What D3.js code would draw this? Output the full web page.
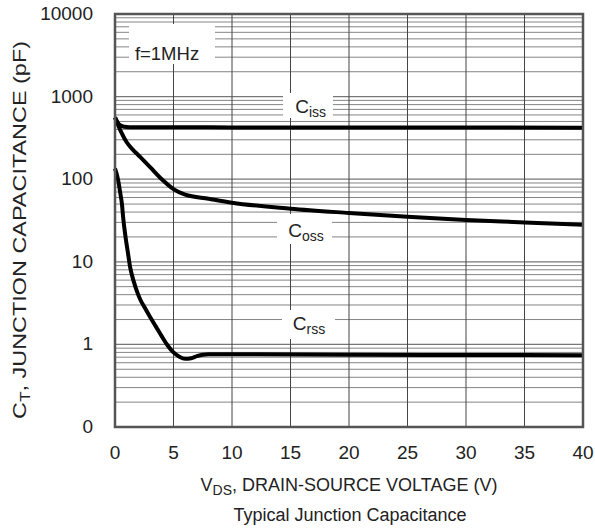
<!DOCTYPE html>
<html><head><meta charset="utf-8">
<script src="https://cdn.jsdelivr.net/npm/d3@7/dist/d3.min.js"></script>
<style>body{margin:0;background:#fff}svg{display:block}text{font-family:"Liberation Sans",Arial,sans-serif;fill:#222}</style>
</head><body><svg id="c" width="595" height="532"></svg>
<script>
const xTicks = [0,5,10,15,20,25,30,35,40];
const yTicks = [0.1,1,10,100,1000,10000];
const yTickLabels = ["0","1","10","100","1000","10000"];

const cissV = [0,0.3,0.6,1,1.5,3,5,10,20,30,40];
const ciss  = [560,470,440,428,425,425,425,424,423,422,421];

const cossV = [0,0.5,1,1.5,2,3,4,5,6,8,10,15,20,25,30,35,40];
const coss  = [560,380,280,230,195,140,100,76,65,58,52,44,39,35,32,30,28];

const crssV = [0,0.25,0.45,0.6,0.7,0.9,1.1,1.3,1.6,1.9,2.2,2.5,3,3.5,4,4.5,5,5.5,6,6.5,7,7.5,8,10,20,30,40];
const crss  = [135,100,68,49,34,20,13,8.5,5.8,4.3,3.4,2.85,2.15,1.64,1.25,0.97,0.8,0.71,0.67,0.68,0.72,0.75,0.76,0.76,0.75,0.745,0.74];

const series = [
  {name:"iss", v:cissV, c:ciss, lx:15.4, ly:640, bx:[283,333], by:[93,118]},
  {name:"oss", v:cossV, c:coss, lx:14.8, ly:20,  bx:[277,332], by:[214,244]},
  {name:"rss", v:crssV, c:crss, lx:15.2, ly:1.48, bx:[282,335], by:[310,339]}
];

const svg = d3.select("#c");
const L=115,R=583,T=14,B=427;
const x = d3.scaleLinear().domain([0,40]).range([L,R]);
const y = d3.scaleLog().domain([0.1,10000]).range([B,T]);

const minor=[];
for(let d=0.1; d<10000; d*=10){ for(let k=2;k<=9;k++) minor.push(+(d*k).toPrecision(3)); }
svg.append("g").selectAll("line").data(minor).join("line")
  .attr("x1",L).attr("x2",R).attr("y1",d=>y(d)).attr("y2",d=>y(d))
  .attr("stroke","#858585").attr("stroke-width",1);
svg.append("g").selectAll("line").data(yTicks).join("line")
  .attr("x1",L).attr("x2",R).attr("y1",d=>y(d)).attr("y2",d=>y(d))
  .attr("stroke","#777").attr("stroke-width",1.2);
svg.append("g").selectAll("line").data(xTicks.slice(1,-1)).join("line")
  .attr("x1",d=>x(d)).attr("x2",d=>x(d)).attr("y1",T).attr("y2",B)
  .attr("stroke","#444").attr("stroke-width",1);

const boxes = svg.append("g");
boxes.append("rect").attr("x",129).attr("y",24).attr("width",86).attr("height",40).attr("fill","#fff");
const lab = svg.append("g");
lab.append("text").attr("x",x(1.7)).attr("y",y(2800)).attr("font-size",18.5).text("f=1MHz");

const line = d3.line().x(d=>x(d[0])).y(d=>y(d[1])).curve(d3.curveMonotoneX);
series.forEach(s=>{
  const pts = s.v.map((v,i)=>[v,s.c[i]]);
  boxes.append("rect").attr("x",s.bx[0]).attr("y",s.by[0]).attr("width",s.bx[1]-s.bx[0]).attr("height",s.by[1]-s.by[0]).attr("fill","#fff");
  const t = lab.append("text").attr("x",x(s.lx)).attr("y",y(s.ly)).attr("font-size",19);
  t.append("tspan").text("C");
  t.append("tspan").attr("font-size",14).attr("dy",4).text(s.name);
  svg.append("path").datum(pts).attr("d",line).attr("fill","none")
    .attr("stroke","#000").attr("stroke-width",4).attr("stroke-linejoin","round");
});

svg.append("rect").attr("x",L).attr("y",T).attr("width",R-L).attr("height",B-T)
  .attr("fill","none").attr("stroke","#555").attr("stroke-width",2.5);

svg.append("g").selectAll("text").data(xTicks).join("text")
  .attr("x",d=>x(d)).attr("y",459).attr("text-anchor","middle").attr("font-size",19).text(d=>d);
svg.append("g").selectAll("text").data(yTicks).join("text")
  .attr("x",93).attr("y",d=>y(d)+6).attr("text-anchor","end").attr("font-size",19).text((d,i)=>yTickLabels[i]);

const xt = svg.append("text").attr("x",349).attr("y",491).attr("text-anchor","middle").attr("font-size",18);
xt.append("tspan").text("V");
xt.append("tspan").attr("font-size",14).attr("dy",4).text("DS");
xt.append("tspan").attr("dy",-4).text(", DRAIN-SOURCE VOLTAGE (V)");

svg.append("text").attr("x",350).attr("y",521).attr("text-anchor","middle").attr("font-size",18).text("Typical Junction Capacitance");

const yt = svg.append("text").attr("transform","translate(26,230) rotate(-90)").attr("text-anchor","middle")
  .attr("font-size",19).attr("textLength",378).attr("lengthAdjust","spacingAndGlyphs");
yt.append("tspan").text("C");
yt.append("tspan").attr("font-size",14).attr("dy",4).text("T");
yt.append("tspan").attr("dy",-4).text(", JUNCTION CAPACITANCE (pF)");
</script></body></html>
